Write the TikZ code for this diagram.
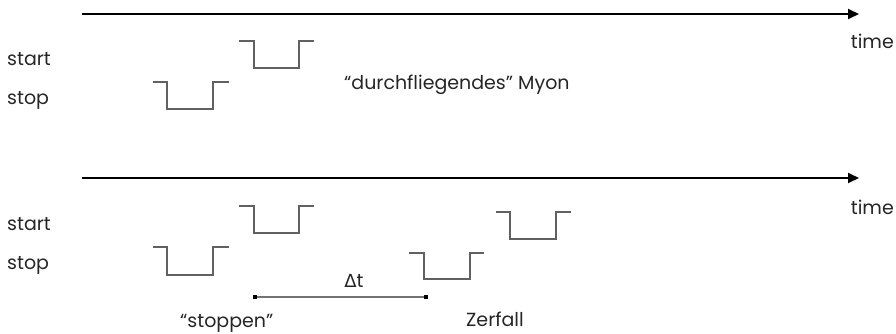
\documentclass[tikz,border=0pt]{standalone}
\usepackage{fontspec}
\setmainfont{Poppins}
\newfontfamily\greekfont{DejaVu Sans}
\usetikzlibrary{arrows.meta}
\begin{document}
\begin{tikzpicture}[x=1pt,y=-1pt,
  axis/.style={line width=1.8pt, -{Triangle[length=11pt,width=10pt]}},
  pulse/.style={draw=black!62, line width=1.3pt},
  lbl/.style={anchor=base west, inner sep=0pt, font=\fontsize{19}{22}\selectfont, text=black!85},
  dbar/.style={draw=black!55, line width=1.6pt},
  endsq/.style={fill=black, minimum size=4pt, inner sep=0pt, draw=none}]
\useasboundingbox (0,0) rectangle (896,333);
% axes
\coordinate (a1s) at (82,14); \coordinate (a1e) at (859,14);
\coordinate (a2s) at (82,178); \coordinate (a2e) at (859,178);
\draw[axis] (a1s) -- (a1e);
\draw[axis] (a2s) -- (a2e);
% labels
\node[lbl] (start1) at (7,65) {start};
\node[lbl] (stop1) at (7,104) {stop};
\node[lbl, anchor=base east] (time1) at (894,48) {time};
\node[lbl] (start2) at (7,230) {start};
\node[lbl] (stop2) at (7,269) {stop};
\node[lbl, anchor=base east] (time2) at (894,214) {time};
\node[lbl] (durch) at (344,89) {“durchfliegendes” Myon};
% top pulses
\draw[pulse] (239,41) -- (254,41) -- (254,68) -- (299,68) -- (299,41) -- (314,41);
\draw[pulse] (153,82) -- (167,82) -- (167,109) -- (213,109) -- (213,82) -- (229,82);
% bottom pulses
\draw[pulse] (239,206) -- (254,206) -- (254,233) -- (299,233) -- (299,206) -- (314,206);
\draw[pulse] (153,247) -- (167,247) -- (167,275) -- (213,275) -- (213,247) -- (229,247);
\draw[pulse] (409,253) -- (424,253) -- (424,279) -- (470,279) -- (470,253) -- (484,253);
\draw[pulse] (496,212) -- (510,212) -- (510,239) -- (556,239) -- (556,212) -- (571,212);
% delta t bar
\node[endsq] (dl) at (255,297) {};
\node[endsq] (dr) at (426,297) {};
\draw[dbar] (dl) -- (dr);
\node[lbl, anchor=base] (dt) at (354,287) {{\greekfont\fontsize{18}{22}\selectfont Δ}t};
\node[lbl] (stoppen) at (180,327) {“stoppen”};
\node[lbl] (zerfall) at (466,326) {Zerfall};
\end{tikzpicture}
\end{document}
